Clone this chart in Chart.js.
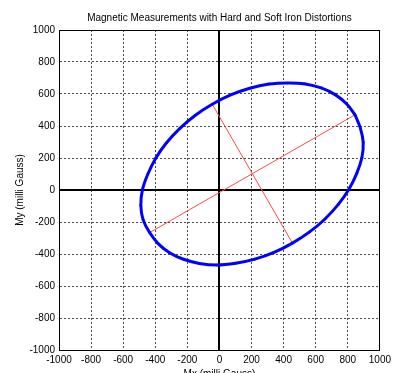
<!DOCTYPE html>
<html>
<head>
<meta charset="utf-8">
<script src="https://cdn.jsdelivr.net/npm/chart.js@4/dist/chart.umd.min.js"></script>
<style>
  html, body { margin: 0; padding: 0; background: #ffffff; overflow: hidden; }
  #wrap { width: 395px; height: 390px; }
</style>
</head>
<body>
<div id="wrap"><canvas id="c" width="395" height="390"></canvas></div>
<script>
// Raw magnetometer samples (milli Gauss)
const mx = [845, 792, 721, 634, 535, 425, 309, 189, 70, -45, -152, -248, -331, -397, -446, -480, -490, -476, -435, -382, -311, -224, -125, -15, 101, 221, 340, 455, 562, 658, 741, 807, 856, 888, 896, 878, 845];
const my = [470, 539, 596, 638, 663, 669, 662, 636, 594, 536, 466, 384, 294, 199, 100, 1, -95, -185, -266, -335, -392, -433, -459, -469, -458, -432, -390, -332, -262, -181, -90, 5, 104, 203, 299, 388, 470];

// Fitted ellipse principal axes
const majorX = [-435, 845];
const majorY = [-266, 470];
const minorX = [-45, 455];
const minorY = [536, -332];

// Axis ticks
const tickValues = [-1000, -800, -600, -400, -200, 0, 200, 400, 600, 800, 1000];

const toPts = (xs, ys) => xs.map((x, i) => ({ x: x, y: ys[i] }));

const FONT = "'Liberation Sans', Arial, sans-serif";

function gridColor(ctx) {
  const v = ctx.tick ? ctx.tick.value : null;
  if (v === 0 || v === 1000 || v === -1000) return '#000000';
  return '#4a4a4a';
}
function gridWidth(ctx) {
  const v = ctx.tick ? ctx.tick.value : null;
  if (v === 0) return 2;
  return 1;
}
function gridDash(ctx) {
  const v = ctx.tick ? ctx.tick.value : null;
  if (v === 0 || v === 1000 || v === -1000) return [];
  return [2, 2];
}

const axisCommon = {
  type: 'linear',
  min: -1000,
  max: 1000,
  afterBuildTicks: (scale) => { scale.ticks = tickValues.map(v => ({ value: v })); },
  grid: { color: gridColor, lineWidth: gridWidth, drawTicks: false },
  border: { display: true, color: '#000000', width: 1, dash: gridDash },
  ticks: {
    color: '#000000',
    font: { family: FONT, size: 10 },
    padding: 4,
    maxRotation: 0,
    autoSkip: false,
    callback: (v) => String(v)
  }
};

new Chart(document.getElementById('c'), {
  type: 'scatter',
  data: {
    datasets: [
      {
        label: 'Measurements',
        data: toPts(mx, my),
        showLine: true,
        borderColor: '#0000ff',
        backgroundColor: '#0000ff',
        borderWidth: 3,
        tension: 0.4,
        pointRadius: 1.3,
        pointBorderWidth: 0
      },
      {
        label: 'Major axis',
        data: toPts(majorX, majorY),
        showLine: true,
        borderColor: '#ff4a4a',
        borderWidth: 1,
        pointRadius: 0
      },
      {
        label: 'Minor axis',
        data: toPts(minorX, minorY),
        showLine: true,
        borderColor: '#ff4a4a',
        borderWidth: 1,
        pointRadius: 0
      }
    ]
  },
  options: {
    responsive: false,
    animation: false,
    layout: { autoPadding: false, padding: { left: 0, right: 10, top: 0, bottom: 0 } },
    plugins: {
      legend: { display: false },
      tooltip: { enabled: false },
      title: {
        display: true,
        fullSize: false,
        text: 'Magnetic Measurements with Hard and Soft Iron Distortions',
        color: '#000000',
        font: { family: FONT, size: 10, weight: 'normal' },
        padding: { top: 12, bottom: 6 }
      }
    },
    scales: {
      x: Object.assign({}, axisCommon, {
        position: 'bottom',
        afterFit: (s) => { s.height = 40; },
        title: {
          display: true,
          text: 'Mx (milli Gauss)',
          color: '#000000',
          font: { family: FONT, size: 10 },
          padding: { top: 0, bottom: 10 }
        }
      }),
      y: Object.assign({}, axisCommon, {
        position: 'left',
        afterFit: (s) => { s.width = 59; },
        title: {
          display: true,
          text: 'My (milli Gauss)',
          color: '#000000',
          font: { family: FONT, size: 10 },
          padding: { top: 14, bottom: 0 }
        }
      })
    }
  }
});
</script>
</body>
</html>
